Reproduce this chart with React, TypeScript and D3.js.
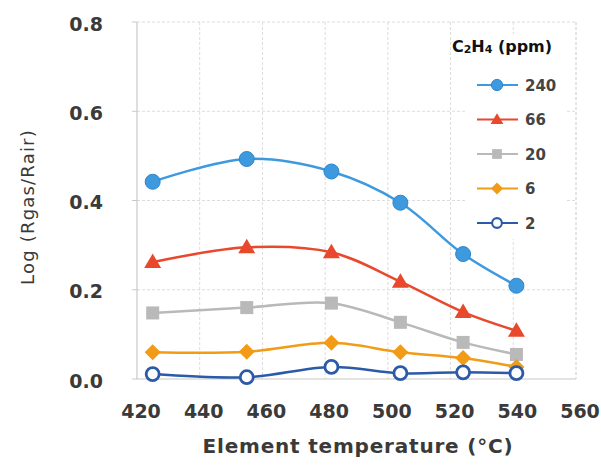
import React from 'react';
import * as d3 from 'd3';

// temperatures (°C)
const temps = [425, 455, 482, 504, 524, 541];

// Log(Rgas/Rair) for each C2H4 concentration
const s240 = [0.442, 0.493, 0.465, 0.395, 0.28, 0.209];
const s66 = [0.262, 0.295, 0.284, 0.218, 0.15, 0.108];
const s20 = [0.148, 0.16, 0.17, 0.127, 0.082, 0.055];
const s6 = [0.06, 0.061, 0.081, 0.06, 0.047, 0.027];
const s2 = [0.011, 0.004, 0.027, 0.013, 0.015, 0.013];

const xTicks = [420, 440, 460, 480, 500, 520, 540, 560];
const yTicks = [0, 0.2, 0.4, 0.6, 0.8];

type Series = { name: string; values: number[]; color: string; marker: string };

const series: Series[] = [
    { name: '240', values: s240, color: '#3d9ade', marker: 'circle' },
    { name: '66', values: s66, color: '#e8492c', marker: 'triangle' },
    { name: '20', values: s20, color: '#b9b9b9', marker: 'square' },
    { name: '6', values: s6, color: '#f29b17', marker: 'diamond' },
    { name: '2', values: s2, color: '#2b5aa8', marker: 'open' },
];

const Marker: React.FC<{ type: string; color: string; x: number; y: number; k?: number }> = ({ type, color, x, y, k = 1 }) => {
    if (type === 'circle') return <circle cx={x} cy={y} r={7.5 * k} fill={color} stroke="#2f86c8" strokeWidth={1} />;
    if (type === 'open') return <circle cx={x} cy={y} r={6.5 * k} fill="#fff" stroke={color} strokeWidth={2.8 * k} />;
    if (type === 'triangle')
        return <path d={`M${x},${y - 8.5 * k}L${x + 8.5 * k},${y + 6 * k}L${x - 8.5 * k},${y + 6 * k}Z`} fill={color} />;
    if (type === 'square') return <rect x={x - 6.5 * k} y={y - 6.5 * k} width={13 * k} height={13 * k} fill={color} />;
    return <path d={`M${x},${y - 8 * k}L${x + 8 * k},${y}L${x},${y + 8 * k}L${x - 8 * k},${y}Z`} fill={color} />;
};

const App: React.FC = () => {
    const W = 601;
    const H = 466;
    const margin = { left: 137, right: 25, top: 22, bottom: 87 };

    const x = d3.scaleLinear().domain([420, 560]).range([margin.left, W - margin.right]);
    const y = d3.scaleLinear().domain([0, 0.8]).range([H - margin.bottom, margin.top]);

    const line = d3
        .line<number>()
        .x((_, i) => x(temps[i]))
        .y((d) => y(d))
        .curve(d3.curveCatmullRom.alpha(0.5));

    const font = '"DejaVu Sans", sans-serif';
    const txt = '#3a3a3a';
    const grid = '#dcdcdc';

    // legend
    const legX = 477;
    const legY = 85;
    const legStep = 34.5;

    return (
        <svg width={W} height={H} style={{ position: 'absolute', left: 0, top: 0, background: '#fff' }}>
            {/* gridlines */}
            {xTicks.slice(1).map((t) => (
                <line key={'gx' + t} x1={x(t)} x2={x(t)} y1={y(0.8)} y2={y(0)} stroke={grid} strokeWidth={1} strokeDasharray="3,2" />
            ))}
            {yTicks.slice(1).map((t) => (
                <line key={'gy' + t} x1={x(420)} x2={x(560)} y1={y(t)} y2={y(t)} stroke={grid} strokeWidth={1} strokeDasharray="3,2" />
            ))}
            {/* axes */}
            <line x1={x(420)} x2={x(420)} y1={y(0.8)} y2={y(0)} stroke="#c8c8c8" strokeWidth={1.2} />
            <line x1={x(420)} x2={x(560)} y1={y(0)} y2={y(0)} stroke="#c8c8c8" strokeWidth={1.2} />
            {yTicks.map((t) => (
                <line key={'ty' + t} x1={x(420) - 5} x2={x(420)} y1={y(t)} y2={y(t)} stroke="#c8c8c8" />
            ))}

            {/* tick labels */}
            {yTicks.map((t) => (
                <text key={'ly' + t} x={103} y={y(t) + 3} textAnchor="end" dominantBaseline="middle" fontFamily={font} fontWeight="bold" fontSize={19} fill={txt}>
                    {t.toFixed(1)}
                </text>
            ))}
            {xTicks.map((t) => (
                <text key={'lx' + t} x={x(t) + 4} y={412} textAnchor="middle" dominantBaseline="middle" fontFamily={font} fontWeight="bold" fontSize={19} fill={txt}>
                    {t}
                </text>
            ))}

            {/* axis titles */}
            <text x={358} y={447} textAnchor="middle" dominantBaseline="middle" fontFamily={font} fontWeight="bold" fontSize={20} letterSpacing={0.8} fill={txt}>
                Element temperature (°C)
            </text>
            <text transform={`translate(29,207) rotate(-90)`} textAnchor="middle" dominantBaseline="middle" fontFamily={font} fontSize={18} letterSpacing={1.2} fill={txt}>
                Log (Rgas/Rair)
            </text>

            {/* legend box */}
            <rect x={466} y={34} width={100} height={205} fill="#fff" />
            <line x1={x(560)} x2={x(560)} y1={y(0.8)} y2={y(0)} stroke={grid} strokeWidth={1} strokeDasharray="3,2" />
            <text x={502} y={47} textAnchor="middle" dominantBaseline="middle" fontFamily={font} fontWeight="bold" fontSize={16} fill="#111">
                C<tspan fontSize={11} dy={3}>2</tspan>
                <tspan dy={-3}>H</tspan>
                <tspan fontSize={11} dy={3}>4</tspan>
                <tspan dy={-3}> (ppm)</tspan>
            </text>
            {series.map((s, i) => (
                <g key={'leg' + s.name}>
                    <line x1={legX} x2={legX + 41} y1={legY + i * legStep} y2={legY + i * legStep} stroke={s.color} strokeWidth={2} />
                    <Marker type={s.marker} color={s.color} x={legX + 20} y={legY + i * legStep} k={0.75} />
                    <text x={legX + 48} y={legY + i * legStep + 1} dominantBaseline="middle" fontFamily={font} fontWeight="bold" fontSize={15} fill="#444">
                        {s.name}
                    </text>
                </g>
            ))}

            {/* series */}
            {series.map((s) => (
                <g key={s.name}>
                    <path d={line(s.values) || ''} fill="none" stroke={s.color} strokeWidth={2.5} />
                    {s.values.map((v, i) => (
                        <Marker key={i} type={s.marker} color={s.color} x={x(temps[i])} y={y(v)} />
                    ))}
                </g>
            ))}
        </svg>
    );
};

export default App;
